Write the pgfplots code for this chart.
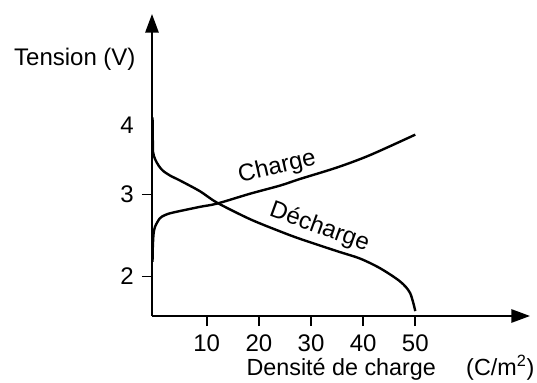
\documentclass[border=0pt]{standalone}
\usepackage{fontspec}
\setmainfont{Liberation Sans}
\usepackage{pgfplots}
\pgfplotsset{compat=1.18}
\usetikzlibrary{arrows.meta}
\begin{document}
\begin{tikzpicture}
\fontsize{18}{21}\selectfont
\begin{axis}[
 scale only axis, width=283.5pt, height=226.5pt,
 xmin=-0.5, xmax=72, ymin=1.52, ymax=5.2,
 axis lines=left,
 axis line style={line width=1.4pt, -{Triangle[length=14pt,width=10pt]}},
 xtick={10,20,30,40,50}, ytick={2,3},
 extra y ticks={3.85}, extra y tick labels={4},
 extra y tick style={tick style={draw=none}},
 tick align=outside, major tick length=7.5pt,
 tick style={line width=1.2pt, black},
 ticklabel style={font=\fontsize{18}{21}\selectfont},
 /pgf/number format/assume math mode=true,
 clip=false,
]
\addplot[black, line width=1.8pt, smooth, tension=0.5] coordinates {
 (-0.4,2.18) (-0.35,2.35) (-0.2,2.52) (0.1,2.61) (1.0,2.71) (2.0,2.75) (3.5,2.78)
 (8.7,2.85) (12.0,2.89) (18.3,3.01) (24.1,3.11) (27.9,3.19) (35.0,3.33) (41.3,3.48) (50.0,3.73)
};
\addplot[black, line width=1.8pt, smooth, tension=0.5] coordinates {
 (-0.4,3.94) (-0.35,3.70) (-0.3,3.52) (0.1,3.43) (0.8,3.35) (1.6,3.29) (3.0,3.23)
 (4.9,3.17) (8.7,3.04) (12.0,2.90) (18.3,2.70) (24.1,2.55) (27.9,2.46) (35.0,2.31) (39.4,2.22)
 (43.3,2.10) (47.1,1.94) (49.0,1.80) (50.0,1.58)
};
\node[rotate=13] at (axis cs:23.5,3.33) {Charge};
\node[rotate=-20] at (axis cs:31.6,2.60) {Décharge};
\node at (axis cs:-15.3,4.65) {Tension (V)};
\node[anchor=base, font=\fontsize{17.5}{20}\selectfont] at (axis cs:35.8,0.80) {Densité de charge};
\node[anchor=base, font=\fontsize{17.5}{20}\selectfont] at (axis cs:66.3,0.80) {(C/m\textsuperscript{2})};
\coordinate (O) at (rel axis cs:0,0);
\coordinate (T) at (rel axis cs:1,1);
\end{axis}
\pgfresetboundingbox
\path ([shift={(-114pt,-50.25pt)}]O) rectangle ([shift={(5.25pt,10.5pt)}]T);
\end{tikzpicture}
\end{document}
